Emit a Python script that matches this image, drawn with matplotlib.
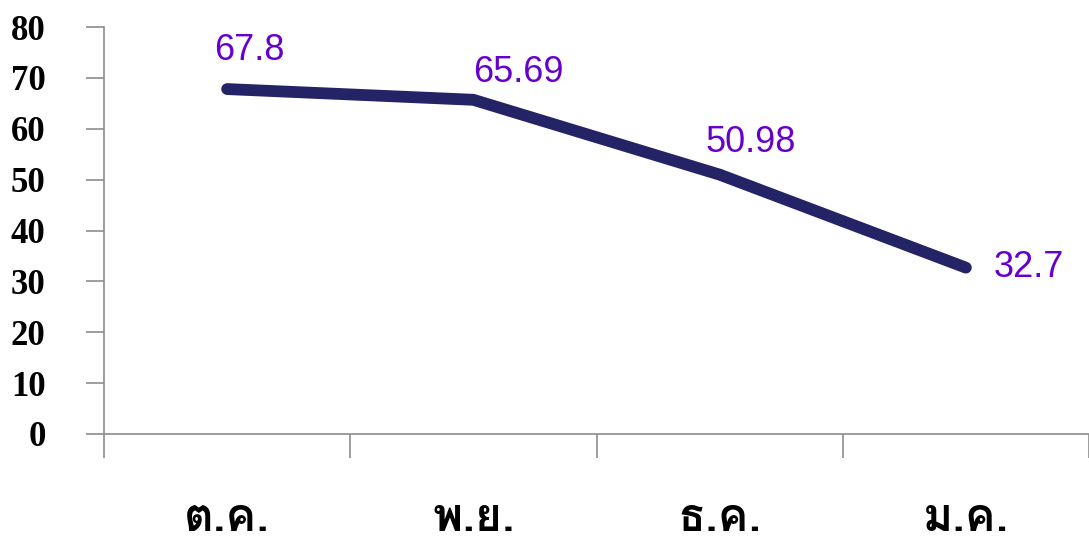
import numpy as np
import matplotlib
matplotlib.use('Agg')
import matplotlib.pyplot as plt
from matplotlib import font_manager
from matplotlib.ft2font import FT2Font

# data
months = ['ต.ค.', 'พ.ย.', 'ธ.ค.', 'ม.ค.']
values = [67.8, 65.69, 50.98, 32.7]
valueLabels = ['67.8', '65.69', '50.98', '32.7']
yTicks = [0, 10, 20, 30, 40, 50, 60, 70, 80]

# label offsets in pixels (dx, dy) and alignment
labelOffsets = [(22, 21), (45, 10), (31, 15), (28, 0)]
labelVa = ['bottom', 'bottom', 'bottom', 'center']
labelHa = ['center', 'center', 'center', 'left']


def findThaiFont():
    # look for any installed font that has Thai glyphs
    for f in font_manager.fontManager.ttflist:
        try:
            cmap = FT2Font(f.fname).get_charmap()
        except Exception:
            continue
        if 0x0E15 in cmap and 0x0E04 in cmap:
            return f.name
    return 'DejaVu Sans'


def main():
    thaiFont = findThaiFont()
    fig = plt.figure(figsize=(10.89, 5.56), dpi=100)
    ax = fig.add_axes([104/1089, 1 - 434/556, 1 - 104/1089, (434 - 27)/556])

    x = np.arange(len(months))
    ax.plot(x, values, color='#232366', linewidth=8.5, solid_capstyle='round',
            solid_joinstyle='round')

    for i in range(len(values)):
        ax.annotate(valueLabels[i], xy=(x[i], values[i]), xytext=labelOffsets[i],
                    textcoords='offset pixels', ha=labelHa[i], va=labelVa[i],
                    color='#6600CC', fontsize=26, family='Liberation Sans')

    ax.set_xlim(-0.5, len(months) - 0.5)
    ax.set_ylim(0, 80)

    for s in ['top', 'right']:
        ax.spines[s].set_visible(False)
    for s in ['left', 'bottom']:
        ax.spines[s].set_color('#8c8c8c')
        ax.spines[s].set_linewidth(1.2)

    # y axis
    ax.set_yticks(yTicks)
    ax.set_yticklabels([str(t) for t in yTicks], family='Liberation Serif',
                       fontweight='bold', fontsize=25)
    ax.tick_params(axis='y', direction='out', length=13, width=1.2,
                   color='#8c8c8c', pad=29)

    # x axis: labels at centres, ticks at boundaries
    ax.set_xticks(x)
    ax.set_xticklabels(months, family=[thaiFont, 'DejaVu Sans'],
                       fontweight='bold', fontsize=33)
    ax.tick_params(axis='x', which='major', length=0, pad=47)
    ax.set_xticks(np.arange(-0.5, len(months), 1.0), minor=True)
    ax.tick_params(axis='x', which='minor', direction='out', length=17,
                   width=1.2, color='#8c8c8c')

    fig.savefig('out.png', dpi=100)


main()
